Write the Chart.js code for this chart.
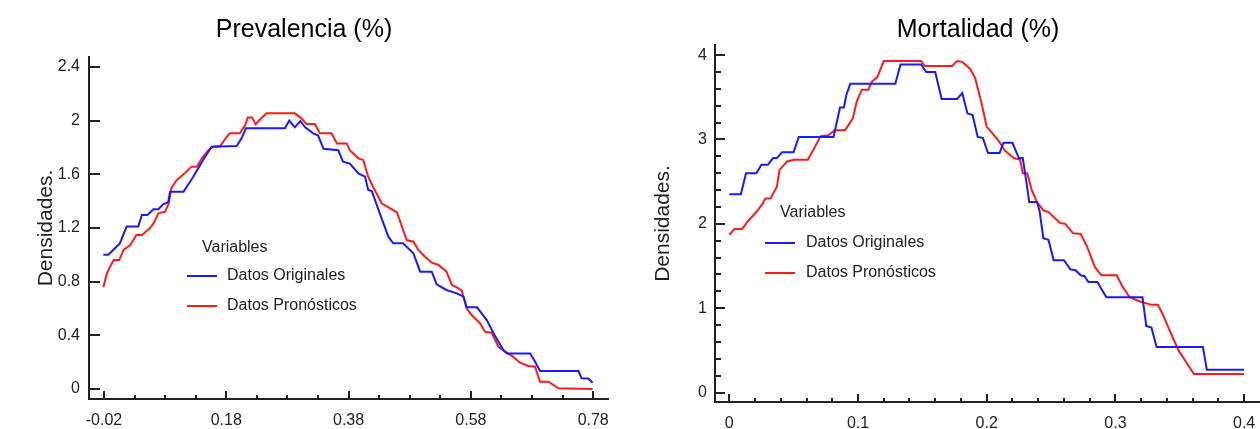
<!DOCTYPE html>
<html>
<head>
<meta charset="utf-8">
<script src="https://cdn.jsdelivr.net/npm/chart.js@4"></script>
<style>
html, body { margin: 0; padding: 0; background: #fff; overflow: hidden; width: 1260px; height: 429px; }
canvas { position: absolute; top: 0; }
#prevChart { left: 0; }
#mortChart { left: 630px; }
</style>
</head>
<body>
<canvas id="prevChart" width="630" height="429"></canvas>
<canvas id="mortChart" width="696" height="429"></canvas>
<script>
// Prevalencia (%) - densidades
const prevOrigX = [-0.021,-0.013,-0.005,0.006,0.017,0.036,0.042,0.051,0.061,0.069,0.077,0.085,0.088,0.110,0.126,0.142,0.156,0.197,0.205,0.212,0.276,0.283,0.292,0.301,0.309,0.322,0.330,0.339,0.363,0.371,0.382,0.396,0.407,0.412,0.418,0.431,0.445,0.453,0.469,0.486,0.497,0.516,0.524,0.540,0.557,0.568,0.573,0.590,0.606,0.617,0.633,0.639,0.677,0.685,0.693,0.756,0.761,0.772,0.779];
const prevOrigY = [1.0,1.0,1.036,1.085,1.21,1.21,1.297,1.297,1.34,1.34,1.378,1.39,1.47,1.47,1.582,1.706,1.806,1.81,1.868,1.943,1.943,2.0,1.95,1.997,1.95,1.905,1.89,1.79,1.78,1.694,1.68,1.607,1.582,1.483,1.475,1.309,1.135,1.086,1.086,1.011,0.874,0.874,0.78,0.738,0.713,0.688,0.609,0.609,0.514,0.415,0.29,0.265,0.265,0.203,0.134,0.134,0.08,0.078,0.047];
const prevPronX = [-0.021,-0.016,-0.010,-0.004,0.005,0.012,0.023,0.033,0.042,0.055,0.061,0.069,0.080,0.086,0.090,0.099,0.112,0.123,0.132,0.140,0.151,0.159,0.170,0.181,0.186,0.202,0.211,0.215,0.222,0.228,0.237,0.246,0.292,0.303,0.311,0.325,0.333,0.352,0.361,0.377,0.382,0.396,0.404,0.412,0.420,0.434,0.448,0.459,0.475,0.486,0.494,0.505,0.516,0.527,0.540,0.549,0.557,0.565,0.573,0.581,0.595,0.603,0.614,0.625,0.636,0.649,0.660,0.674,0.685,0.693,0.707,0.723,0.779];
const prevPronY = [0.758,0.85,0.911,0.961,0.961,1.036,1.073,1.148,1.148,1.197,1.234,1.309,1.321,1.384,1.495,1.557,1.607,1.657,1.657,1.719,1.781,1.806,1.81,1.88,1.905,1.905,1.967,2.024,2.024,1.972,2.017,2.054,2.054,2.017,1.975,1.975,1.905,1.905,1.83,1.83,1.78,1.719,1.706,1.582,1.507,1.384,1.346,1.317,1.11,1.098,1.036,0.986,0.941,0.924,0.874,0.775,0.758,0.733,0.601,0.551,0.49,0.427,0.42,0.315,0.278,0.241,0.196,0.171,0.166,0.054,0.054,0.005,0.0];
const prevXTicks = [-0.02, 0.18, 0.38, 0.58, 0.78];
const prevXLabels = ['-0.02', '0.18', '0.38', '0.58', '0.78'];
const prevYTicks = [0, 0.4, 0.8, 1.2, 1.6, 2, 2.4];
const prevYLabels = ['0', '0.4', '0.8', '1.2', '1.6', '2', '2.4'];

// Mortalidad (%) - densidades
const mortOrigX = [0,0.009,0.013,0.021,0.025,0.030,0.034,0.037,0.041,0.050,0.054,0.081,0.086,0.089,0.091,0.094,0.129,0.133,0.149,0.153,0.160,0.165,0.177,0.181,0.185,0.189,0.193,0.197,0.201,0.210,0.213,0.220,0.225,0.228,0.231,0.233,0.239,0.241,0.244,0.248,0.252,0.260,0.265,0.269,0.273,0.276,0.279,0.286,0.289,0.293,0.321,0.324,0.328,0.332,0.368,0.371,0.4];
const mortOrigY = [2.35,2.35,2.6,2.6,2.7,2.7,2.78,2.78,2.85,2.85,3.03,3.03,3.38,3.38,3.53,3.66,3.66,3.89,3.89,3.8,3.8,3.48,3.48,3.55,3.31,3.29,3.03,3.02,2.84,2.84,2.96,2.96,2.78,2.78,2.48,2.26,2.26,2.16,1.83,1.81,1.57,1.57,1.46,1.45,1.39,1.38,1.31,1.31,1.23,1.13,1.13,0.79,0.77,0.54,0.54,0.27,0.27];
const mortPronX = [0,0.004,0.010,0.015,0.021,0.026,0.028,0.032,0.037,0.039,0.045,0.050,0.061,0.065,0.071,0.077,0.082,0.090,0.096,0.099,0.103,0.108,0.111,0.115,0.120,0.149,0.152,0.173,0.177,0.181,0.187,0.191,0.196,0.200,0.203,0.209,0.214,0.221,0.226,0.228,0.2315,0.235,0.239,0.244,0.248,0.257,0.261,0.267,0.273,0.278,0.284,0.289,0.301,0.305,0.311,0.319,0.328,0.333,0.337,0.342,0.349,0.355,0.361,0.4];
const mortPronY = [1.87,1.94,1.94,2.04,2.14,2.24,2.3,2.3,2.44,2.64,2.74,2.76,2.76,2.87,3.04,3.05,3.11,3.11,3.25,3.45,3.59,3.59,3.69,3.74,3.93,3.93,3.87,3.87,3.93,3.92,3.84,3.73,3.43,3.15,3.1,2.99,2.87,2.78,2.76,2.6,2.6,2.4,2.26,2.16,2.14,2.01,2.0,1.89,1.88,1.73,1.49,1.39,1.39,1.27,1.13,1.08,1.04,1.04,0.92,0.74,0.5,0.36,0.22,0.22];
const mortXTicks = [0, 0.1, 0.2, 0.3, 0.4];
const mortXLabels = ['0', '0.1', '0.2', '0.3', '0.4'];
const mortYTicks = [0, 1, 2, 3, 4];
const mortYLabels = ['0', '1', '2', '3', '4'];

const seriesNames = ['Datos Originales', 'Datos Pronósticos'];
const seriesColors = ['#1a1aff', '#ff1a1a'];

const FONT = '"Liberation Sans", Arial, Helvetica, sans-serif';
const AXIS = '#222';
Chart.defaults.font.family = FONT;

function range(start, end, step) {
    const out = [];
    for (let v = start; v <= end + step / 10; v += step) out.push(+v.toFixed(4));
    return out;
}

function toPoints(xs, ys) {
    return xs.map((x, i) => ({ x: x, y: ys[i] }));
}

// tick marks pointing into the plot, like the original software
const innerTicks = {
    id: 'innerTicks',
    afterDraw(chart, args, opts) {
        const ctx = chart.ctx;
        const area = chart.chartArea;
        const xs = chart.scales.x;
        const ys = chart.scales.y;
        const line = (x1, y1, x2, y2) => {
            ctx.beginPath();
            ctx.moveTo(x1, y1);
            ctx.lineTo(x2, y2);
            ctx.stroke();
        };
        ctx.save();
        ctx.strokeStyle = AXIS;
        ctx.lineWidth = 2;
        opts.xMinor.forEach(v => {
            const px = Math.round(xs.getPixelForValue(v));
            line(px, area.bottom, px, area.bottom - opts.xMinorLen);
        });
        opts.xMajor.forEach(v => {
            const px = Math.round(xs.getPixelForValue(v));
            line(px, area.bottom, px, area.bottom - opts.xMajorLen);
        });
        opts.yMinor.forEach(v => {
            const py = Math.round(ys.getPixelForValue(v));
            line(area.left, py, area.left + opts.yMinorLen, py);
        });
        opts.yMajor.forEach(v => {
            const py = Math.round(ys.getPixelForValue(v));
            line(area.left, py, area.left + opts.yMajorLen, py);
        });
        ctx.restore();
    }
};

// legend box drawn inside the plot
const innerLegend = {
    id: 'innerLegend',
    afterDraw(chart, args, opts) {
        const ctx = chart.ctx;
        ctx.save();
        ctx.font = '16px ' + FONT;
        ctx.fillStyle = '#222';
        ctx.textBaseline = 'middle';
        ctx.textAlign = 'left';
        ctx.fillText(opts.title, opts.titleX, opts.titleY);
        chart.data.datasets.forEach((ds, i) => {
            const y = opts.rowY + i * opts.rowGap;
            ctx.strokeStyle = ds.borderColor;
            ctx.lineWidth = 2;
            ctx.beginPath();
            ctx.moveTo(opts.lineX, y);
            ctx.lineTo(opts.lineX + 30, y);
            ctx.stroke();
            ctx.fillStyle = '#222';
            ctx.fillText(ds.label, opts.textX, y);
        });
        ctx.restore();
    }
};

function makeChart(id, cfg) {
    const ctx = document.getElementById(id).getContext('2d');
    return new Chart(ctx, {
        type: 'line',
        data: {
            datasets: cfg.series.map((s, i) => ({
                label: seriesNames[i],
                data: toPoints(s[0], s[1]),
                borderColor: seriesColors[i],
                borderWidth: 2,
                pointRadius: 0,
                tension: 0,
                fill: false
            }))
        },
        options: {
            responsive: false,
            animation: false,
            layout: { padding: { left: 0, top: 0, bottom: 0, right: cfg.padRight } },
            plugins: {
                legend: { display: false },
                tooltip: { enabled: false },
                title: {
                    display: true,
                    text: cfg.title,
                    color: '#000',
                    font: { size: 25, weight: 'normal', family: FONT },
                    padding: { top: 15, bottom: cfg.titleGap }
                },
                innerTicks: cfg.ticks,
                innerLegend: cfg.legend
            },
            scales: {
                x: {
                    type: 'linear',
                    min: cfg.xMin,
                    max: cfg.xMax,
                    grid: { display: false, drawTicks: false },
                    border: { display: true, color: AXIS, width: 2 },
                    ticks: {
                        color: '#222',
                        font: { size: 16 },
                        padding: 12,
                        autoSkip: false,
                        maxRotation: 0,
                        callback: (v, i) => cfg.xLabels[i]
                    },
                    afterBuildTicks: s => { s.ticks = cfg.xTicks.map(v => ({ value: v })); },
                    afterFit: s => { s.height = cfg.xHeight; s.paddingLeft = 0; s.paddingRight = 0; }
                },
                y: {
                    type: 'linear',
                    min: cfg.yMin,
                    max: cfg.yMax,
                    grid: { display: false, drawTicks: false },
                    border: { display: true, color: AXIS, width: 2 },
                    ticks: {
                        color: '#222',
                        font: { size: 16 },
                        padding: cfg.yPad,
                        autoSkip: false,
                        callback: (v, i) => cfg.yLabels[i]
                    },
                    title: {
                        display: true,
                        text: 'Densidades.',
                        color: '#222',
                        font: { size: 21 },
                        padding: { top: cfg.yTitlePad, bottom: 0 }
                    },
                    afterBuildTicks: s => { s.ticks = cfg.yTicks.map(v => ({ value: v })); },
                    afterFit: s => { s.width = cfg.yWidth; s.paddingTop = 0; s.paddingBottom = 0; }
                }
            }
        },
        plugins: [innerTicks, innerLegend]
    });
}

makeChart('prevChart', {
    title: 'Prevalencia (%)',
    series: [[prevOrigX, prevOrigY], [prevPronX, prevPronY]],
    xMin: -0.0445, xMax: 0.8042, yMin: -0.0745, yMax: 2.474,
    xTicks: prevXTicks, xLabels: prevXLabels,
    yTicks: prevYTicks, yLabels: prevYLabels,
    padRight: 22, titleGap: 12, xHeight: 30, yWidth: 89, yPad: 9, yTitlePad: 34,
    ticks: {
        xMajor: prevXTicks, xMinor: range(-0.02, 0.78, 0.05), xMajorLen: 8, xMinorLen: 4,
        yMajor: prevYTicks, yMinor: [], yMajorLen: 11, yMinorLen: 0
    },
    legend: { title: 'Variables', titleX: 202, titleY: 248, lineX: 187, textX: 227, rowY: 276, rowGap: 30 }
});

makeChart('mortChart', {
    title: 'Mortalidad (%)',
    series: [[mortOrigX, mortOrigY], [mortPronX, mortPronY]],
    xMin: -0.0111, xMax: 0.4636, yMin: -0.1115, yMax: 4.12,
    xTicks: mortXTicks, xLabels: mortXLabels,
    yTicks: mortYTicks, yLabels: mortYLabels,
    padRight: 0, titleGap: 0, xHeight: 27, yWidth: 85, yPad: 8, yTitlePad: 21,
    ticks: {
        xMajor: mortXTicks, xMinor: range(0, 0.4, 0.02), xMajorLen: 8, xMinorLen: 4,
        yMajor: mortYTicks, yMinor: range(0, 4, 0.2), yMajorLen: 10, yMinorLen: 6
    },
    legend: { title: 'Variables', titleX: 150, titleY: 213, lineX: 135, textX: 176, rowY: 243, rowGap: 30 }
});
</script>
</body>
</html>
